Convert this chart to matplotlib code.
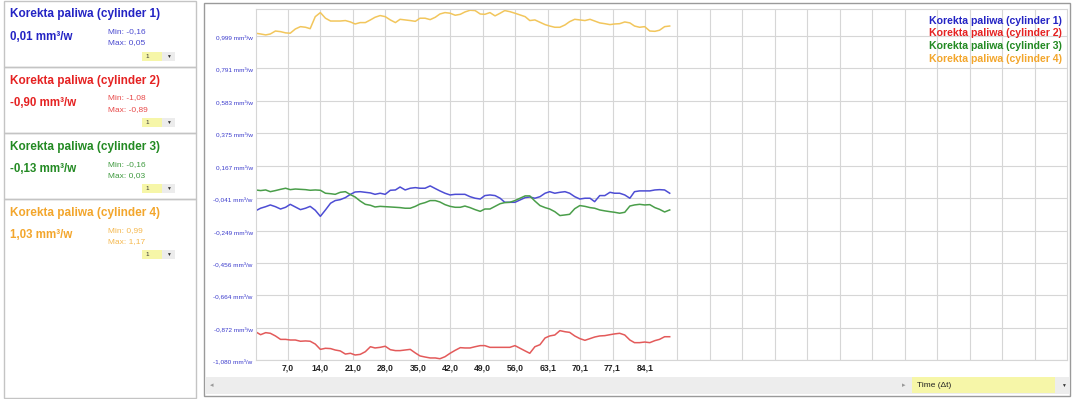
import numpy as np
import matplotlib.pyplot as plt
from matplotlib.patches import Rectangle
from matplotlib.ticker import FixedLocator

plt.rcParams['font.family'] = ['Liberation Sans', 'DejaVu Sans']

# sample times (s)
time_s = [0.0, 1.1, 2.2, 3.2, 4.3, 5.4, 6.5, 7.5, 8.6, 9.7, 10.8, 11.8, 12.9, 14.0,
          15.1, 16.2, 17.2, 18.3, 19.4, 20.5, 21.5, 22.6, 23.7, 24.8, 25.8, 26.9,
          28.0, 29.1, 30.2, 31.2, 32.3, 33.4, 34.5, 35.5, 36.6, 37.7, 38.8, 39.8,
          40.9, 42.0, 43.1, 44.2, 45.2, 46.3, 47.4, 48.5, 49.5, 50.6, 51.7, 52.8,
          53.8, 54.9, 56.0, 57.1, 58.2, 59.2, 60.3, 61.4, 62.5, 63.5, 64.6, 65.7,
          66.8, 67.8, 68.9, 70.0, 71.1, 72.2, 73.2, 74.3, 75.4, 76.5, 77.5, 78.6,
          79.7, 80.8, 81.8, 82.9, 84.0, 85.1, 86.2, 87.2, 88.3, 89.4]

cyl1 = [-0.123, -0.106, -0.096, -0.085, -0.096, -0.111, -0.100, -0.081, -0.098, -0.115,
        -0.106, -0.094, -0.119, -0.158, -0.117, -0.074, -0.057, -0.051, -0.038, -0.017,
        -0.002, 0.000, -0.004, -0.008, -0.017, -0.010, -0.017, 0.009, 0.011, 0.030,
        0.011, 0.022, 0.026, 0.022, 0.022, 0.037, 0.020, 0.005, -0.010, -0.021,
        -0.017, -0.017, -0.017, -0.032, -0.042, -0.047, -0.025, -0.021, -0.025, -0.042,
        -0.068, -0.068, -0.068, -0.053, -0.038, -0.034, -0.042, -0.032, -0.010, 0.000,
        -0.010, -0.004, 0.000, -0.010, -0.032, -0.047, -0.042, -0.042, -0.064, -0.025,
        -0.025, -0.004, -0.010, -0.010, -0.021, -0.042, 0.000, 0.005, 0.005, 0.005,
        0.011, 0.013, 0.011, -0.010]

cyl2 = [-0.897, -0.916, -0.903, -0.907, -0.924, -0.946, -0.946, -0.950, -0.950, -0.958,
        -0.956, -0.958, -0.976, -1.010, -1.003, -1.005, -1.014, -1.020, -1.040, -1.035,
        -1.046, -1.042, -1.025, -0.993, -1.001, -0.997, -0.990, -1.012, -1.018, -1.018,
        -1.014, -1.010, -1.033, -1.052, -1.059, -1.065, -1.065, -1.070, -1.057, -1.035,
        -1.016, -0.999, -1.001, -1.001, -0.993, -0.986, -0.986, -0.997, -0.997, -0.997,
        -0.997, -0.997, -0.986, -1.003, -1.020, -1.035, -0.993, -0.980, -0.937, -0.924,
        -0.918, -0.890, -0.897, -0.901, -0.924, -0.941, -0.952, -0.941, -0.931, -0.924,
        -0.922, -0.916, -0.911, -0.907, -0.918, -0.950, -0.967, -0.967, -0.963, -0.967,
        -0.954, -0.946, -0.929, -0.929]

cyl3 = [0.011, 0.007, 0.011, 0.000, 0.007, 0.015, 0.022, 0.013, 0.017, 0.015,
        0.013, 0.009, 0.011, 0.009, -0.010, -0.013, -0.017, -0.004, 0.000, -0.019,
        -0.034, -0.060, -0.081, -0.087, -0.098, -0.094, -0.096, -0.098, -0.100, -0.102,
        -0.106, -0.106, -0.094, -0.079, -0.070, -0.057, -0.057, -0.066, -0.083, -0.094,
        -0.100, -0.100, -0.092, -0.102, -0.115, -0.126, -0.111, -0.111, -0.094, -0.077,
        -0.070, -0.068, -0.057, -0.042, -0.027, -0.027, -0.060, -0.089, -0.102, -0.111,
        -0.128, -0.153, -0.149, -0.145, -0.109, -0.089, -0.094, -0.102, -0.106, -0.117,
        -0.123, -0.128, -0.132, -0.138, -0.132, -0.092, -0.085, -0.081, -0.085, -0.083,
        -0.102, -0.113, -0.130, -0.117]

cyl4 = [1.015, 1.010, 1.004, 1.010, 1.029, 1.025, 1.017, 1.015, 1.042, 1.057,
        1.053, 1.044, 1.121, 1.147, 1.111, 1.093, 1.093, 1.093, 1.096, 1.087,
        1.074, 1.083, 1.083, 1.100, 1.117, 1.128, 1.121, 1.100, 1.083, 1.104,
        1.100, 1.096, 1.091, 1.111, 1.111, 1.102, 1.117, 1.138, 1.147, 1.143,
        1.130, 1.136, 1.151, 1.162, 1.160, 1.138, 1.136, 1.147, 1.126, 1.143,
        1.160, 1.153, 1.143, 1.132, 1.121, 1.096, 1.100, 1.085, 1.070, 1.061,
        1.053, 1.053, 1.068, 1.089, 1.104, 1.100, 1.096, 1.104, 1.093, 1.081,
        1.076, 1.070, 1.074, 1.076, 1.087, 1.081, 1.061, 1.053, 1.057, 1.029,
        1.027, 1.034, 1.057, 1.061]

names = ['Korekta paliwa (cylinder 1)', 'Korekta paliwa (cylinder 2)',
         'Korekta paliwa (cylinder 3)', 'Korekta paliwa (cylinder 4)']
current = ['0,01', '-0,90', '-0,13', '1,03']
mins = ['-0,16', '-1,08', '-0,16', '0,99']
maxs = ['0,05', '-0,89', '0,03', '1,17']
unit = 'mm³/w'

ytick_vals = [-1.080, -0.872, -0.664, -0.456, -0.249, -0.041, 0.167, 0.375, 0.583, 0.791, 0.999]
xtick_labels = ['7,0', '14,0', '21,0', '28,0', '35,0', '42,0', '49,0', '56,0',
                '63,1', '70,1', '77,1', '84,1']

text_colors = ['#2424c4', '#e52222', '#238a23', '#f3a62c']
sub_colors = ['#4a4ad0', '#e84a4a', '#3f9a3f', '#f5b84e']
line_colors = ['#4d4dd4', '#e35a5a', '#4a9e4a', '#f2c65c']

x_step = 7.006
x_max = 175.15
y_min, y_max = -1.08, 1.17

W, H = 1074, 399
fig = plt.figure(figsize=(W / 100, H / 100), dpi=100)

# background layer in pixel coordinates
bg = fig.add_axes([0, 0, 1, 1])
bg.set_xlim(0, W)
bg.set_ylim(H, 0)
bg.axis('off')
bg.set_zorder(0)

box_h = 66.3
for i in range(4):
    top = i * box_h
    h = box_h if i < 3 else 397 - top
    bg.add_patch(Rectangle((3.5, top + 0.5), 192.5, h, fill=False, ec='#c4c4c4', lw=1))
    bg.text(10, top + 14.5, names[i], fontsize=8.5, weight='bold', color=text_colors[i], va='center')
    bg.text(10, top + 36.5, current[i] + ' ' + unit, fontsize=8.3, weight='bold',
            color=text_colors[i], va='center')
    bg.text(108, top + 31.5, 'Min: ' + mins[i], fontsize=6, color=sub_colors[i], va='center')
    bg.text(108, top + 42.8, 'Max: ' + maxs[i], fontsize=6, color=sub_colors[i], va='center')
    bg.add_patch(Rectangle((142, top + 51.5), 20, 9, fc='#f6f6a8', ec='none'))
    bg.add_patch(Rectangle((162, top + 51.5), 13, 9, fc='#ececec', ec='none'))
    bg.text(145, top + 56, '1', fontsize=4.5, color='#333333', va='center')
    bg.text(168.5, top + 56, '▼', fontsize=3.5, color='#333333', va='center', ha='center')

# chart frame and scroll bar
bg.add_patch(Rectangle((204, 3), 866, 393, fill=False, ec='#9a9a9a', lw=1))
bg.add_patch(Rectangle((205, 377), 864, 17, fc='#ededed', ec='none'))
bg.text(212, 385.5, '◂', fontsize=5, color='#999999', va='center', ha='center')
bg.text(904, 385.5, '▸', fontsize=5, color='#999999', va='center', ha='center')
bg.add_patch(Rectangle((912, 377), 143, 16, fc='#f6f6a8', ec='none'))
bg.text(917, 385.5, 'Time (Δt)', fontsize=6, color='#222222', va='center')
bg.text(1063.5, 385.5, '▼', fontsize=3.5, color='#333333', va='center', ha='center')

# plot area
ax = fig.add_axes([255.5 / W, 1 - 360.3 / H, (1067 - 255.5) / W, (360.3 - 9) / H])
ax.set_zorder(1)
series = [cyl1, cyl2, cyl3, cyl4]
for vals, c in zip(series, line_colors):
    ax.plot(time_s, vals, color=c, lw=1.1)

ax.set_xlim(0, x_max)
ax.set_ylim(y_min, y_max)

ax.set_yticks(ytick_vals)
ax.set_yticklabels([f'{v:.3f}'.replace('.', ',') + ' ' + unit for v in ytick_vals],
                   fontsize=4.6, color='#3a3acc', va='top')
major_x = [x_step * (k + 1) for k in range(len(xtick_labels))]
ax.set_xticks(major_x)
ax.set_xticklabels(xtick_labels, fontsize=6.2, weight='bold', color='#222222')
ax.xaxis.set_minor_locator(FixedLocator([x_step * k for k in range(len(xtick_labels) + 1, 25)]))
ax.tick_params(axis='both', which='both', length=0)
ax.tick_params(axis='y', pad=2)
ax.tick_params(axis='x', pad=2)
ax.grid(True, which='both', color='#d6d6d6', lw=0.8)
for s in ax.spines.values():
    s.set_color('#d6d6d6')
    s.set_linewidth(0.8)

# legend drawn on an overlay above the plot
ov = fig.add_axes([0, 0, 1, 1])
ov.set_xlim(0, W)
ov.set_ylim(H, 0)
ov.axis('off')
ov.set_zorder(2)
leg_y = [20.7, 33.3, 46.0, 59.3]
for i in range(4):
    ov.text(1062, leg_y[i], names[i], fontsize=7.6, weight='bold', color=text_colors[i],
            ha='right', va='center')

fig.savefig('out.png', dpi=100)
